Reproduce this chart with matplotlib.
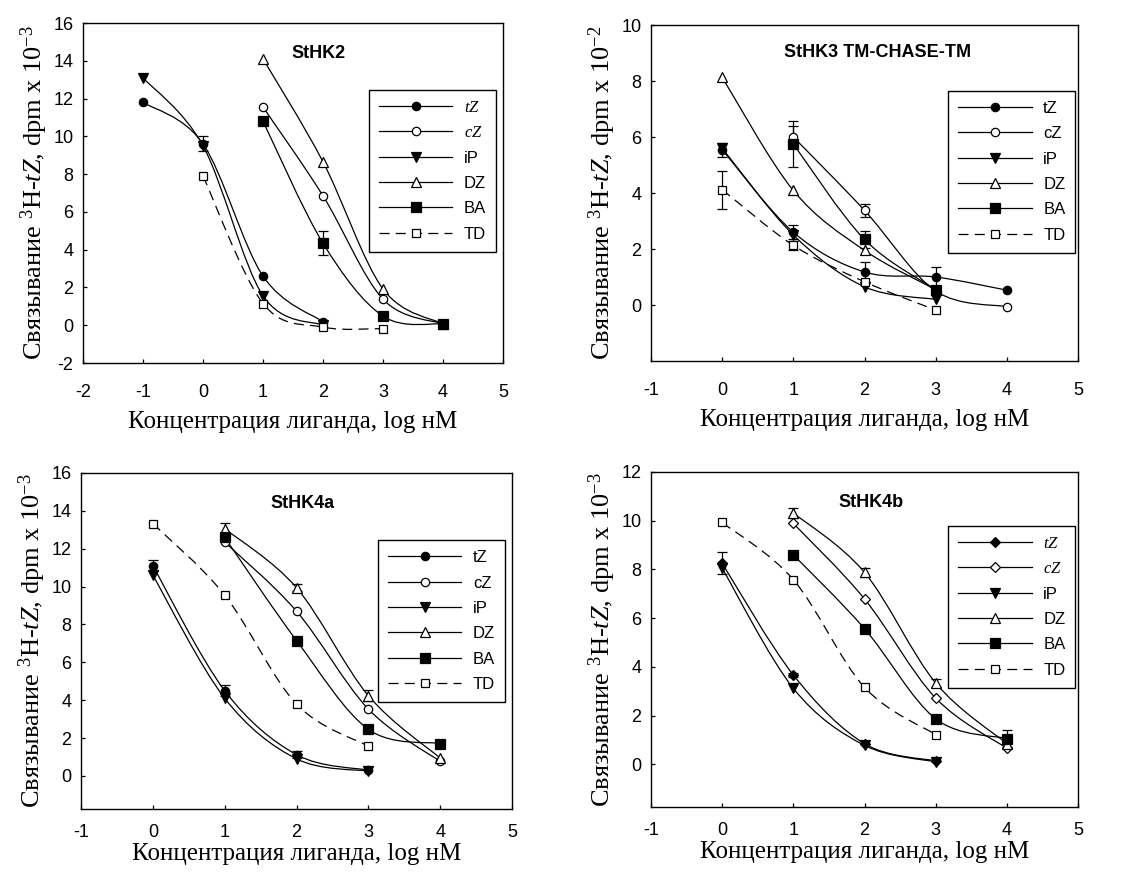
import numpy as np
import matplotlib
matplotlib.use("Agg")
import matplotlib.pyplot as plt
from matplotlib.path import Path
from matplotlib.patches import PathPatch
from matplotlib.lines import Line2D

plt.rcParams['font.family'] = ['Liberation Sans', 'DejaVu Sans']
plt.rcParams['mathtext.fontset'] = 'custom'
plt.rcParams['mathtext.rm'] = 'Liberation Serif'
plt.rcParams['mathtext.it'] = 'Liberation Serif:italic'
plt.rcParams['axes.unicode_minus'] = False

nan = np.nan
ligands = ['tZ', 'cZ', 'iP', 'DZ', 'BA', 'TD']

# --- StHK2 ---------------------------------------------------------------
x_hk2 = [-1, 0, 1, 2, 3, 4]
hk2_tZ = [11.8, 9.6, 2.6, 0.18, nan, nan]
hk2_cZ = [nan, nan, 11.55, 6.85, 1.38, 0.07]
hk2_iP = [13.1, 9.5, 1.56, 0.0, nan, nan]
hk2_DZ = [nan, nan, 14.1, 8.65, 1.92, 0.07]
hk2_BA = [nan, nan, 10.8, 4.34, 0.48, 0.07]
hk2_TD = [nan, 7.9, 1.15, -0.1, -0.18, nan]
hk2_err_tZ = [0, 0.4, 0, 0, 0, 0]
hk2_err_BA = [0, 0, 0, 0.63, 0, 0]

# --- StHK3 TM-CHASE-TM ---------------------------------------------------
x_hk3 = [0, 1, 2, 3, 4]
hk3_tZ = [5.55, 2.6, 1.18, 1.0, 0.53]
hk3_cZ = [nan, 6.0, 3.38, 0.5, -0.06]
hk3_iP = [5.6, 2.5, 0.65, 0.2, nan]
hk3_DZ = [8.13, 4.09, 1.95, 0.55, nan]
hk3_BA = [nan, 5.75, 2.34, 0.55, nan]
hk3_TD = [4.12, 2.13, 0.83, -0.18, nan]
hk3_err_tZ = [0.25, 0.25, 0.36, 0.36, 0]
hk3_err_cZ = [0, 0.4, 0.24, 0, 0]
hk3_err_BA = [0, 0.83, 0.3, 0, 0]
hk3_err_TD = [0.68, 0.15, 0, 0, 0]

# --- StHK4a --------------------------------------------------------------
x_hk4a = [0, 1, 2, 3, 4]
hk4a_tZ = [11.1, 4.5, 1.12, 0.3, nan]
hk4a_cZ = [nan, 12.35, 8.7, 3.53, 0.76]
hk4a_iP = [10.6, 4.1, 0.9, 0.25, nan]
hk4a_DZ = [nan, 13.06, 9.94, 4.24, 0.94]
hk4a_BA = [nan, 12.6, 7.15, 2.46, 1.71]
hk4a_TD = [13.33, 9.55, 3.79, 1.57, nan]
hk4a_err_tZ = [0.3, 0.3, 0.2, 0, 0]
hk4a_err_DZ = [0, 0.3, 0.2, 0.3, 0]

# --- StHK4b --------------------------------------------------------------
x_hk4b = [0, 1, 2, 3, 4]
hk4b_tZ = [8.25, 3.67, 0.85, 0.14, nan]
hk4b_cZ = [nan, 9.89, 6.79, 2.72, 0.66]
hk4b_iP = [8.05, 3.12, 0.78, 0.1, nan]
hk4b_DZ = [nan, 10.32, 7.88, 3.34, 0.85]
hk4b_BA = [nan, 8.6, 5.57, 1.87, 1.06]
hk4b_TD = [9.93, 7.58, 3.16, 1.22, nan]
hk4b_err_tZ = [0.45, 0.1, 0, 0, 0]
hk4b_err_DZ = [0, 0.22, 0.18, 0.15, 0]
hk4b_err_BA = [0, 0, 0, 0, 0.35]

xlabel_text = 'Концентрация лиганда, log нМ'


def ylabel_text(power):
    return 'Связывание $^{3}$H-$tZ$, dpm x 10$^{-%d}$' % power


# marker styles: (marker, filled, size)
styles_circle = {
    'tZ': ('o', True, 6), 'cZ': ('o', False, 6), 'iP': ('v', True, 6.5),
    'DZ': ('^', False, 6.5), 'BA': ('s', True, 6.5), 'TD': ('s', False, 6),
}
styles_diamond = dict(styles_circle)
styles_diamond['tZ'] = ('D', True, 5)
styles_diamond['cZ'] = ('D', False, 5)

DASH = (0, (8, 5))


def smooth_path(xs, ys):
    """Bezier spline through consecutive points (spreadsheet-style smoothing)."""
    xs = np.asarray(xs, float)
    ys = np.asarray(ys, float)
    ok = ~np.isnan(ys)
    pts = np.column_stack([xs[ok], ys[ok]])
    n = len(pts)
    verts = [pts[0]]
    codes = [Path.MOVETO]
    for i in range(n - 1):
        p0 = pts[i - 1] if i > 0 else pts[i]
        p1 = pts[i]
        p2 = pts[i + 1]
        p3 = pts[i + 2] if i + 2 < n else pts[i + 1]
        verts += [p1 + (p2 - p0) / 6.0, p2 - (p3 - p1) / 6.0, p2]
        codes += [Path.CURVE4] * 3
    return Path(verts, codes)


def draw_panel(rect, title, title_xy, xs, series, errors, xlim, ylim, yticks,
               power, styles, legend_anchor, italic_legend, xpad, xlabelpad):
    ax = fig.add_axes(rect)
    handles = []
    for name in ligands:
        ys = series[name]
        ls = DASH if name == 'TD' else '-'
        patch = PathPatch(smooth_path(xs, ys), fill=False, ec='black',
                          lw=0.9, ls=ls, zorder=2)
        ax.add_patch(patch)
        if name in errors:
            err = np.asarray(errors[name], float)
            yv = np.asarray(ys, float)
            m = err > 0
            ax.errorbar(np.asarray(xs)[m], yv[m], yerr=err[m], fmt='none',
                        ecolor='black', elinewidth=0.9, capsize=3.5,
                        capthick=0.9, zorder=3)
        mk, filled, ms = styles[name]
        ax.plot(xs, ys, ls='none', marker=mk, ms=ms, mec='black', mew=0.9,
                mfc='black' if filled else 'white', zorder=4)
        label = ('$\\mathit{%s}$' % name) if (italic_legend and name in ('tZ', 'cZ')) else name
        handles.append(Line2D([], [], color='black', lw=0.9, ls=ls, marker=mk,
                              ms=ms, mec='black', mew=0.9,
                              mfc='black' if filled else 'white', label=label))
    ax.set_xlim(*xlim)
    ax.set_ylim(*ylim)
    ax.set_xticks(np.arange(xlim[0], xlim[1] + 1, 1))
    ax.set_yticks(yticks)
    ax.tick_params(direction='in', length=3, width=0.9, labelsize=13,
                   top=False, right=False)
    ax.tick_params(axis='x', pad=xpad)
    ax.tick_params(axis='y', pad=7)
    for sp in ax.spines.values():
        sp.set_linewidth(1.0)
    ax.set_xlabel(xlabel_text, family='Liberation Serif', fontsize=18,
                  labelpad=xlabelpad)
    ax.set_ylabel(ylabel_text(power), family='Liberation Serif', fontsize=19,
                  labelpad=2)
    ax.text(title_xy[0], title_xy[1], title, transform=ax.transAxes,
            ha='center', va='center', fontsize=13, fontweight='bold')
    leg = ax.legend(handles=handles, loc='upper left',
                    bbox_to_anchor=legend_anchor, fontsize=12,
                    handlelength=4.4, handletextpad=0.7, labelspacing=0.62,
                    borderpad=0.6, borderaxespad=0, frameon=True,
                    fancybox=False, edgecolor='black', framealpha=1)
    leg.get_frame().set_linewidth(1.0)
    leg.set_zorder(5)
    return ax


fig = plt.figure(figsize=(11.3, 8.82), dpi=100)
W, H = 1130.0, 882.0


def rect_px(left, right, top, bottom):
    return [left / W, 1 - bottom / H, (right - left) / W, (bottom - top) / H]


draw_panel(rect_px(83, 503, 23, 363), 'StHK2', (0.56, 0.91), x_hk2,
           {'tZ': hk2_tZ, 'cZ': hk2_cZ, 'iP': hk2_iP, 'DZ': hk2_DZ,
            'BA': hk2_BA, 'TD': hk2_TD},
           {'tZ': hk2_err_tZ, 'BA': hk2_err_BA},
           (-2, 5), (-2, 16), np.arange(-2, 17, 2), 3, styles_circle,
           (0.681, 0.803), True, 15, 7)

draw_panel(rect_px(651, 1078, 25, 361), 'StHK3 TM-CHASE-TM', (0.53, 0.917),
           x_hk3,
           {'tZ': hk3_tZ, 'cZ': hk3_cZ, 'iP': hk3_iP, 'DZ': hk3_DZ,
            'BA': hk3_BA, 'TD': hk3_TD},
           {'tZ': hk3_err_tZ, 'cZ': hk3_err_cZ, 'BA': hk3_err_BA,
            'TD': hk3_err_TD},
           (-1, 5), (-2, 10), np.arange(0, 11, 2), 2, styles_circle,
           (0.696, 0.804), False, 15, 7)

draw_panel(rect_px(81, 512, 473, 809), 'StHK4a', (0.513, 0.91), x_hk4a,
           {'tZ': hk4a_tZ, 'cZ': hk4a_cZ, 'iP': hk4a_iP, 'DZ': hk4a_DZ,
            'BA': hk4a_BA, 'TD': hk4a_TD},
           {'tZ': hk4a_err_tZ, 'DZ': hk4a_err_DZ},
           (-1, 5), (-1.75, 16), np.arange(0, 17, 2), 3, styles_circle,
           (0.689, 0.80), False, 11, 1)

draw_panel(rect_px(651, 1078, 472, 807), 'StHK4b', (0.515, 0.91), x_hk4b,
           {'tZ': hk4b_tZ, 'cZ': hk4b_cZ, 'iP': hk4b_iP, 'DZ': hk4b_DZ,
            'BA': hk4b_BA, 'TD': hk4b_TD},
           {'tZ': hk4b_err_tZ, 'DZ': hk4b_err_DZ, 'BA': hk4b_err_BA},
           (-1, 5), (-1.75, 12), np.arange(0, 13, 2), 3, styles_diamond,
           (0.696, 0.839), True, 11, 1)

fig.savefig('out.png', dpi=100)
